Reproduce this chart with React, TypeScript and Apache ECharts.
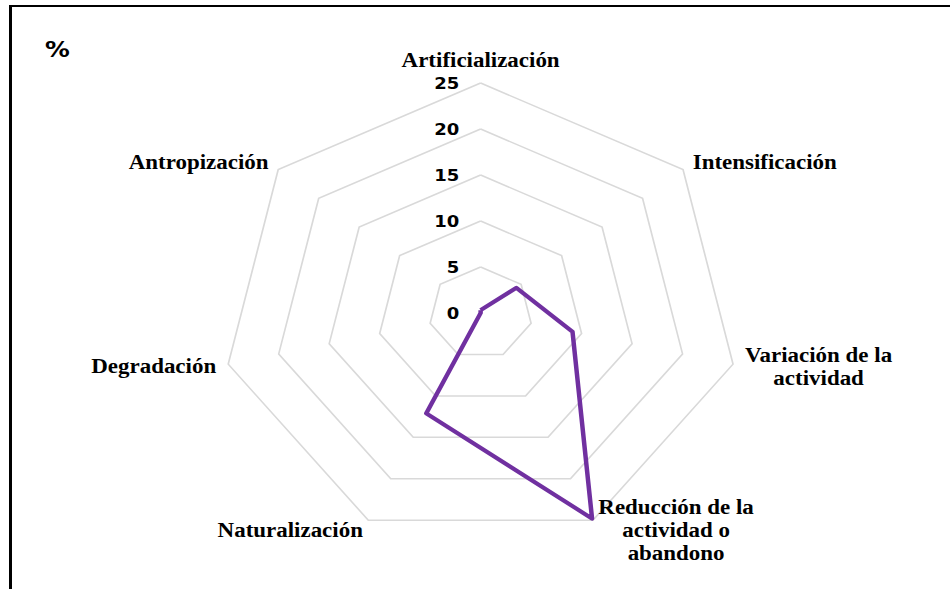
import { useEffect, useRef } from "react";
import * as echarts from "echarts";

// Categories in clockwise order, starting at the top
const categories = [
  "Artificialización",
  "Intensificación",
  "Variación de la\nactividad",
  "Reducción de la\nactividad o\nabandono",
  "Naturalización",
  "Degradación",
  "Antropización",
];
const values = [0.3, 4.4, 9.1, 24.8, 12.1, 0, 0];
const axisMin = 0;
const axisMax = 25;
const ringCount = 5;
const unitLabel = "%";

const BASE_W = 844;
const STRETCH = 950 / BASE_W;

export default function App() {
  const ref = useRef<HTMLDivElement>(null);
  useEffect(() => {
    if (!ref.current) return;
    const chart = echarts.init(ref.current, null, { renderer: "svg" });
    // ECharts lays radar indicators out counter-clockwise; reorder so they run clockwise
    const order = [0, ...categories.map((_, i) => i).slice(1).reverse()];
    const indicator = order.map((i, k) => ({
      name: categories[i],
      min: axisMin,
      max: axisMax,
      ...(k === 0 ? { axisLabel: { show: true } } : {}),
    }));
    const data = order.map((i) => values[i]);
    const nameFont = {
      fontFamily: "Liberation Serif",
      fontWeight: "bold" as const,
      fontSize: 20.4,
      lineHeight: 23,
      color: "#000",
    };
    chart.setOption({
      animation: false,
      backgroundColor: "transparent",
      title: {
        text: unitLabel,
        left: 35,
        top: 33,
        textStyle: {
          fontFamily: "DejaVu Sans",
          fontWeight: "bold",
          fontSize: 22,
          color: "#000",
        },
      },
      radar: {
        center: [427, 313],
        radius: 230,
        startAngle: 90,
        splitNumber: ringCount,
        shape: "polygon",
        nameGap: 11,
        axisName: {
          ...nameFont,
          formatter: (name: string) =>
            name
              .split("\n")
              .map((l) => `{c|${l}}`)
              .join("\n"),
          rich: { c: { ...nameFont, align: "center" } },
        },
        axisLine: { show: false },
        axisTick: { show: false },
        axisLabel: {
          show: false,
          margin: 19,
          fontFamily: "DejaVu Sans",
          fontWeight: "bold",
          fontSize: 16,
          color: "#000",
        },
        splitLine: { lineStyle: { color: "#d9d9d9", width: 1.5 } },
        splitArea: { show: false },
        indicator,
      },
      series: [
        {
          type: "radar",
          symbol: "none",
          lineStyle: { color: "#7030A0", width: 4 },
          data: [{ value: data, name: "%" }],
        },
      ],
    });
    return () => chart.dispose();
  }, []);

  return (
    <div style={{ position: "fixed", left: 0, top: 0, width: 950, height: 589, background: "#fff", overflow: "hidden" }}>
      <div
        ref={ref}
        style={{
          position: "absolute",
          left: 0,
          top: 0,
          width: BASE_W,
          height: 589,
          transform: `scaleX(${STRETCH})`,
          transformOrigin: "0 0",
        }}
      />
      <div
        style={{
          position: "absolute",
          left: 9,
          top: 5,
          right: -10,
          bottom: -10,
          borderTop: "2px solid #000",
          borderLeft: "3px solid #000",
          pointerEvents: "none",
        }}
      />
    </div>
  );
}
